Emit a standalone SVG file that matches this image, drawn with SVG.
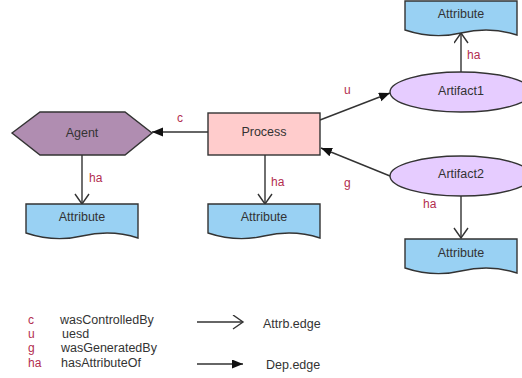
<svg xmlns="http://www.w3.org/2000/svg" width="522" height="378" viewBox="0 0 522 378">
<style>
text{font-family:"Liberation Sans",Arial,sans-serif;font-size:12.5px;fill:#333}
.lbl{fill:#b22d4f;font-size:12px}
.node{stroke:#333;stroke-width:1.4}
.attr{fill:#99d1f3}
.edge{stroke:#333;stroke-width:1.4;fill:none}
.mid{text-anchor:middle;dominant-baseline:central}
</style>
<defs>
<marker id="dep" markerUnits="userSpaceOnUse" markerWidth="12" markerHeight="10" refX="11" refY="4.5" orient="auto"><path d="M0,0 L11,4.5 L0,9 z" fill="#111"/></marker>
<marker id="att" markerUnits="userSpaceOnUse" markerWidth="14" markerHeight="16" refX="11" refY="7.5" orient="auto"><path d="M1,0.5 L11,7.5 L1,14.5" fill="none" stroke="#333" stroke-width="1.4"/></marker>
</defs>
<g id="edges">
<line class="edge" x1="208" y1="132" x2="152" y2="132" marker-end="url(#dep)"/>
<line class="edge" x1="82" y1="155" x2="82" y2="204" marker-end="url(#att)"/>
<line class="edge" x1="265" y1="155" x2="265" y2="204" marker-end="url(#att)"/>
<line class="edge" x1="320" y1="120" x2="390" y2="93" marker-end="url(#dep)"/>
<line class="edge" x1="390" y1="176" x2="321" y2="148" marker-end="url(#dep)"/>
<line class="edge" x1="461" y1="72" x2="461" y2="33" marker-end="url(#att)"/>
<line class="edge" x1="461" y1="196" x2="461" y2="238" marker-end="url(#att)"/>
<text class="lbl" x="177" y="122">c</text>
<text class="lbl" x="89" y="182">ha</text>
<text class="lbl" x="271" y="186">ha</text>
<text class="lbl" x="344" y="187">g</text>
<text class="lbl" x="344" y="94">u</text>
<text class="lbl" x="467" y="59">ha</text>
<text class="lbl" x="423" y="208">ha</text>
</g>
<g id="agent">
<polygon class="node" points="12,133 40,112 125,112 152,133 125,155 40,155" fill="#b08db1"/>
<text class="mid" x="82" y="133">Agent</text>
</g>
<g id="process">
<rect class="node" x="208" y="113" width="112" height="42" fill="#ffcccc"/>
<text class="mid" x="264" y="132">Process</text>
</g>
<g id="artifact1">
<ellipse class="node" cx="461" cy="92" rx="71" ry="20" fill="#e6ccff"/>
<text class="mid" x="461" y="91">Artifact1</text>
</g>
<g id="artifact2">
<ellipse class="node" cx="461" cy="176" rx="71" ry="20" fill="#e6ccff"/>
<text class="mid" x="461" y="174">Artifact2</text>
</g>
<g id="attr-agent">
<path class="node attr" d="M26,204 H138 V238 C120,232 103,231 82,236 S44,239 26,233 Z"/>
<text class="mid" x="82" y="217">Attribute</text>
</g>
<g id="attr-process">
<path class="node attr" d="M208,204 H320 V238 C302,232 285,231 264,236 S226,239 208,233 Z"/>
<text class="mid" x="264" y="217">Attribute</text>
</g>
<g id="attr-artifact1">
<path class="node attr" d="M405,1 H517 V35 C499,29 482,28 461,33 S423,36 405,30 Z"/>
<text class="mid" x="461" y="14">Attribute</text>
</g>
<g id="attr-artifact2">
<path class="node attr" d="M405,239 H517 V273 C499,267 482,266 461,271 S423,274 405,268 Z"/>
<text class="mid" x="461" y="253">Attribute</text>
</g>
<g id="legend">
<text class="lbl" x="28" y="324">c</text>
<text class="lbl" x="28" y="338">u</text>
<text class="lbl" x="28" y="352">g</text>
<text class="lbl" x="28" y="367">ha</text>
<text x="60" y="324">wasControlledBy</text>
<text x="62" y="338">uesd</text>
<text x="61" y="352">wasGeneratedBy</text>
<text x="61" y="367">hasAttributeOf</text>
<line class="edge" x1="197" y1="322" x2="243" y2="322" marker-end="url(#att)"/>
<line class="edge" x1="197" y1="364" x2="243" y2="364" marker-end="url(#dep)"/>
<text x="263" y="328">Attrb.edge</text>
<text x="266" y="369">Dep.edge</text>
</g>
</svg>
